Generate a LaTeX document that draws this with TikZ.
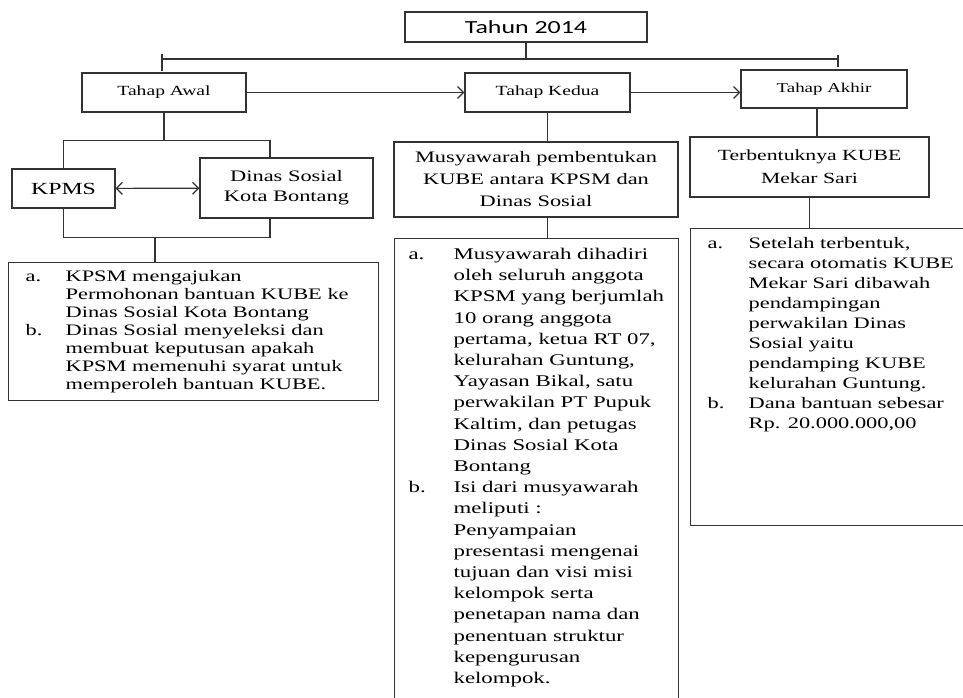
\documentclass[tikz,border=0pt]{standalone}
\usepackage{fontspec}
\setmainfont{Liberation Serif}[FakeStretch=1.4]
\newfontfamily\judulfont{Carlito}[FakeStretch=1.4]
\usepackage{tikz}
\usetikzlibrary{arrows.meta,positioning,calc}

\newcommand{\isian}[3]{\parbox[t][#2][t]{#1}{#3}}

\begin{document}
\begin{tikzpicture}[x=1pt,y=-1pt,
	kotak/.style={draw=black!80,line width=1.2pt,inner sep=0pt,align=center},
	rincian/.style={draw=black!80,line width=1.2pt,anchor=north west,inner xsep=#1,inner ysep=6pt},
	rincian/.default=15pt,
	garis/.style={draw=black!80,line width=1.2pt},
	panah/.style={-{Straight Barb[length=6pt,width=12pt]}},
	duapanah/.style={{Straight Barb[length=6pt,width=12pt]}-{Straight Barb[length=6pt,width=12pt]}}]
	\clip (0,0) rectangle (963,697);
	\fill[white] (0,0) rectangle (963,697);

	% judul dan tahap
	\node[kotak,minimum width=242pt,minimum height=30pt,font=\judulfont\fontsize{18.5}{22}\selectfont] (tahun) at (526,27) {Tahun 2014};
	\node[kotak,minimum width=164pt,minimum height=39pt,font=\fontsize{14}{17}\selectfont  ] (awal)  at (164,92.5) {Tahap Awal};
	\node[kotak,minimum width=165pt,minimum height=39pt,font=\fontsize{14}{17}\selectfont  ] (kedua) at (547.5,92.5) {Tahap Kedua};
	\node[kotak,minimum width=166pt,minimum height=38pt,font=\fontsize{13.5}{17}\selectfont] (akhir) at (824,89) {Tahap Akhir};

	% tahap awal
	\node[kotak,minimum width=103pt,minimum height=39pt,font=\fontsize{17}{20}\selectfont] (kpms)  at (63.5,188.5) {KPMS};
	\node[kotak,minimum width=173pt,minimum height=60pt,font=\fontsize{16}{20}\selectfont] (dinas) at (286.5,188) {Dinas Sosial\\Kota Bontang};
	\node[rincian=17pt,font=\fontsize{16}{18}\selectfont] (rincianawal) at (8,262) {\isian{336pt}{126pt}{%
		\begin{tabular}{@{}p{40pt}@{}l@{}}
			a. & KPSM mengajukan\\
			   & Permohonan bantuan KUBE ke\\
			   & Dinas Sosial Kota Bontang\\
			b. & Dinas Sosial menyeleksi dan\\
			   & membuat keputusan apakah\\
			   & KPSM memenuhi syarat untuk\\
			   & memperoleh bantuan KUBE.
		\end{tabular}}};

	% tahap kedua
	\node[kotak,minimum width=284pt,minimum height=75pt,font=\fontsize{16}{22}\selectfont] (musyawarah) at (536,179.5) {Musyawarah pembentukan\\KUBE antara KPSM dan\\Dinas Sosial};
	\node[rincian=14pt,font=\fontsize{16.3}{21.2}\selectfont] (rinciankedua) at (394,238) {\isian{256pt}{480pt}{%
		\begin{tabular}{@{}p{45pt}@{}l@{}}
			a. & Musyawarah dihadiri\\
			   & oleh seluruh anggota\\
			   & KPSM yang berjumlah\\
			   & 10 orang anggota\\
			   & pertama, ketua RT 07,\\
			   & kelurahan Guntung,\\
			   & Yayasan Bikal, satu\\
			   & perwakilan PT Pupuk\\
			   & Kaltim, dan petugas\\
			   & Dinas Sosial Kota\\
			   & Bontang\\
			b. & Isi dari musyawarah\\
			   & meliputi :\\
			   & Penyampaian\\
			   & presentasi mengenai\\
			   & tujuan dan visi misi\\
			   & kelompok serta\\
			   & penetapan nama dan\\
			   & penentuan struktur\\
			   & kepengurusan\\
			   & kelompok.
		\end{tabular}}};

	% tahap akhir
	\node[kotak,minimum width=239pt,minimum height=60pt,font=\fontsize{15.5}{23}\selectfont] (terbentuk) at (809.5,167) {Terbentuknya KUBE\\Mekar Sari};
	\node[rincian=17pt,font=\fontsize{16}{20}\selectfont] (rincianakhir) at (690,228) {\isian{260pt}{285pt}{%
		\begin{tabular}{@{}p{41pt}@{}l@{}}
			a. & Setelah terbentuk,\\
			   & secara otomatis KUBE\\
			   & Mekar Sari dibawah\\
			   & pendampingan\\
			   & perwakilan Dinas\\
			   & Sosial yaitu\\
			   & pendamping KUBE\\
			   & kelurahan Guntung.\\
			b. & Dana bantuan sebesar\\
			   & Rp. 20.000.000,00
		\end{tabular}}};

	% garis penghubung
	\coordinate (ujungkiri)  at (162,59);
	\coordinate (ujungkanan) at (838,59);
	\draw[garis] (tahun.south) -- (tahun.south |- ujungkiri);
	\draw[garis] (ujungkiri) -- (ujungkanan);
	\draw[garis] ([yshift=5pt]ujungkiri)  -- ([yshift=-12pt]ujungkiri);
	\draw[garis] ([yshift=4pt]ujungkanan) -- ([yshift=-8pt]ujungkanan);

	\draw[garis,panah] (awal) -- (kedua);
	\draw[garis,panah] (kedua.east) -- (kedua.east -| akhir.west);

	\draw[garis] (awal.south) -- ++(0,28.5);
	\draw[garis] (kpms.north) -- ++(0,-28) -| ([xshift=-16.5pt]dinas.north);
	\draw[garis] (kpms.south) -- ++(0,29)  -| ([xshift=-16.5pt]dinas.south);
	\draw[garis,duapanah] (kpms) -- (dinas);
	\coordinate (cabangawal) at (155,237);
	\draw[garis] (cabangawal) -- (cabangawal |- rincianawal.north);

	\draw[garis] (kedua.south) -- (kedua.south |- musyawarah.north);
	\draw[garis] (kedua.south |- musyawarah.south) -- (kedua.south |- rinciankedua.north);

	\coordinate (cabangakhir) at ([xshift=-7pt]akhir.south);
	\draw[garis] (cabangakhir) -- (cabangakhir |- terbentuk.north);
	\draw[garis] (terbentuk.south) -- (terbentuk.south |- rincianakhir.north);
\end{tikzpicture}
\end{document}
